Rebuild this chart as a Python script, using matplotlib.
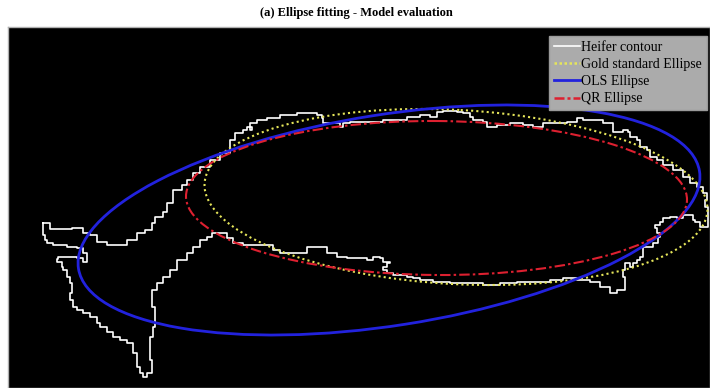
import numpy as np
import matplotlib
matplotlib.use("Agg")
import matplotlib.pyplot as plt
from matplotlib.patches import Ellipse
from matplotlib.lines import Line2D

# ---- data (image pixel coordinates, y downward) ----
contour_x = [43, 50, 67, 72, 83, 90, 97, 107, 117, 127, 137, 143, 145, 152, 155, 163, 167, 173, 173, 182, 187,
             193, 200, 210, 220, 230, 230, 235, 243, 247, 252, 250, 257, 267, 280, 297, 307, 317, 322, 323, 337,
             340, 343, 350, 367, 383, 407, 420, 430, 437, 443, 457, 463, 470, 473, 483, 487, 497, 510, 523, 533,
             543, 557, 567, 573, 577, 583, 590, 600, 603, 610, 613, 623, 628, 630, 637, 640, 647, 650, 657, 663,
             673, 683, 690, 697, 700, 703, 707, 705, 708, 708, 703, 700, 695, 693, 687, 683, 677, 670, 663, 660,
             655, 657, 660, 658, 653, 647, 643, 643, 640, 637, 633, 630, 625, 623, 625, 617, 610, 603, 600, 590,
             577, 563, 550, 533, 517, 500, 483, 467, 450, 433, 420, 413, 407, 397, 393, 387, 383, 387, 390, 383,
             380, 373, 367, 360, 347, 337, 327, 320, 307, 293, 280, 273, 260, 243, 233, 227, 217, 212, 207, 200,
             193, 187, 177, 170, 163, 157, 152, 152, 155, 155, 153, 150, 150, 152, 147, 143, 140, 137, 133, 127,
             120, 113, 107, 100, 97, 90, 83, 77, 73, 70, 72, 70, 67, 63, 62, 57, 58, 67, 77, 83, 87, 87, 83, 77,
             67, 53, 47, 45, 43, 43]
contour_y = [223, 229, 229, 228, 233, 235, 242, 245, 245, 240, 233, 233, 230, 223, 217, 212, 203, 197, 190, 185, 180,
             173, 167, 160, 153, 145, 140, 133, 130, 127, 130, 123, 120, 118, 115, 113, 113, 115, 118, 123, 123,
             127, 123, 122, 122, 120, 117, 115, 117, 112, 111, 112, 113, 117, 120, 122, 127, 125, 123, 125, 127,
             123, 123, 122, 122, 118, 120, 120, 120, 123, 123, 132, 130, 132, 137, 140, 147, 150, 157, 160, 165,
             170, 177, 183, 187, 187, 193, 200, 207, 213, 227, 227, 222, 220, 215, 215, 218, 217, 218, 222, 225,
             228, 233, 237, 243, 247, 247, 250, 257, 260, 263, 267, 263, 270, 277, 290, 293, 287, 287, 282, 280,
             278, 280, 282, 282, 283, 285, 283, 283, 282, 280, 278, 277, 275, 275, 273, 270, 267, 263, 262, 258,
             257, 260, 258, 258, 257, 253, 247, 247, 253, 253, 250, 245, 245, 243, 238, 233, 233, 237, 240, 247,
             253, 260, 270, 277, 283, 290, 297, 307, 313, 327, 337, 347, 360, 373, 377, 373, 367, 353, 343, 340,
             337, 332, 327, 323, 317, 313, 310, 307, 300, 293, 283, 277, 270, 267, 262, 259, 257, 257, 258, 262,
             260, 253, 248, 247, 245, 243, 240, 235, 228, 223]

# ellipse parameters: center x, center y, semi-major, semi-minor, angle (deg)
gold_params = (456, 197, 251.8, 87.1, 3.1)
ols_params = (389, 220, 314.3, 105.5, -8.9)
qr_params = (436.5, 198, 250.5, 77.0, 0.4)

legend_labels = ["Heifer contour", "Gold standard Ellipse", "OLS Ellipse", "QR Ellipse"]
title_text = "(a) Ellipse fitting - Model evaluation"

# ---- figure ----
W, H = 710, 388
fig = plt.figure(figsize=(W / 100, H / 100), dpi=100)
fig.patch.set_facecolor("white")
ax = fig.add_axes([8 / W, 0, (W - 8) / W, (H - 27) / H])
ax.set_facecolor("black")
ax.set_xlim(8, 710)
ax.set_ylim(388, 27)
ax.set_xticks([])
ax.set_yticks([])
for s in ax.spines.values():
    s.set_color("#b0b0b0")
    s.set_linewidth(1.0)

# stair-step the pixel contour
cx = np.array(contour_x, dtype=float)
cy = np.array(contour_y, dtype=float)
sx, sy = [cx[0]], [cy[0]]
for i in range(1, len(cx)):
    sx += [cx[i], cx[i]]
    sy += [cy[i - 1], cy[i]]
ax.plot(sx, sy, color="white", lw=1.2, zorder=2)

styles = [
    (gold_params, dict(edgecolor="#e6e65a", linestyle=(0, (1, 1.5)), linewidth=1.5)),
    (ols_params, dict(edgecolor="#2222dd", linestyle="-", linewidth=2.0)),
    (qr_params, dict(edgecolor="#dd2030", linestyle=(0, (5, 1.5, 1.2, 1.5)), linewidth=1.5)),
]
for z, (p, st) in enumerate(styles):
    e = Ellipse((p[0], p[1]), 2 * p[2], 2 * p[3], angle=p[4], fill=False, zorder=3 + z, **st)
    ax.add_patch(e)

handles = [
    Line2D([], [], color="white", lw=1.2),
    Line2D([], [], color="#e6e65a", lw=1.8, linestyle=(0, (1, 1))),
    Line2D([], [], color="#2222dd", lw=2.0),
    Line2D([], [], color="#dd2030", lw=1.8, linestyle=(0, (4, 1.2, 1.2, 1.2))),
]
leg = ax.legend(handles, legend_labels, loc="upper right",
                bbox_to_anchor=((707 - 8) / (W - 8), 1 - (36 - 27) / (H - 27)),
                borderaxespad=0, prop={"family": "Liberation Serif", "size": 10},
                handlelength=1.9, handletextpad=0.1, labelspacing=0.3,
                borderpad=0.35, fancybox=False, framealpha=1, facecolor="#ababab",
                edgecolor="#9a9a9a")
for t in leg.get_texts():
    t.set_color("black")

fig.text(356 / W, 1 - 13 / H, title_text, ha="center", va="center",
         fontfamily="Liberation Serif", fontweight="bold", fontsize=9)

fig.savefig("out.png", dpi=100)
